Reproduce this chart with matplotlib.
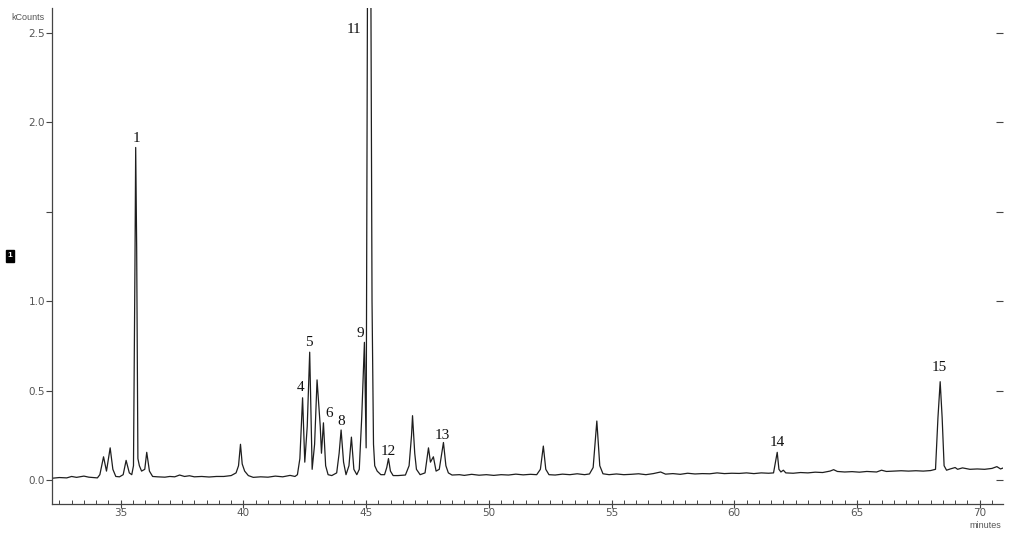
import numpy as np
import matplotlib.pyplot as plt
from matplotlib.ticker import MultipleLocator, FixedLocator

# trace (minutes, kCounts)
trace_time = [
    32.2, 32.5, 32.8, 33.0, 33.2, 33.5, 33.7, 33.9, 34.05,
    34.15, 34.3, 34.42, 34.5, 34.57, 34.68, 34.8, 34.95,
    35.1, 35.22, 35.35, 35.45,
    35.52, 35.58, 35.61, 35.65, 35.7, 35.76, 35.85,
    35.98, 36.06, 36.17, 36.3,
    36.5, 36.8, 37.0, 37.2, 37.4, 37.6, 37.8, 38.0, 38.3, 38.6, 38.9, 39.2, 39.5, 39.7,
    39.8, 39.88, 39.95, 40.05, 40.2, 40.4,
    40.7, 41.0, 41.3, 41.6, 41.9, 42.1, 42.2,
    42.3, 42.41, 42.5, 42.6, 42.7, 42.8, 42.9, 43.0, 43.08, 43.13,
    43.18, 43.26, 43.35, 43.45, 43.6, 43.8,
    43.9, 43.98, 44.08, 44.18,
    44.3, 44.4, 44.5, 44.62, 44.72,
    44.82, 44.93, 45.0,
    45.06, 45.1, 45.16, 45.24, 45.3, 45.35, 45.45, 45.6, 45.75,
    45.84, 45.91, 45.99, 46.1, 46.3, 46.6, 46.75,
    46.85, 46.89, 46.98, 47.05, 47.2, 47.4,
    47.54, 47.62, 47.74, 47.85, 47.98, 48.15, 48.25, 48.35, 48.5,
    48.8, 49.0, 49.3, 49.6, 49.9, 50.2, 50.5, 50.8, 51.1, 51.4, 51.7, 51.95,
    52.1, 52.22, 52.32, 52.45, 52.7, 53.0, 53.3, 53.6, 53.9, 54.1,
    54.25, 54.4, 54.52, 54.65, 54.9, 55.2, 55.5, 55.8, 56.1, 56.4, 56.7,
    57.0, 57.2, 57.5, 57.8, 58.1, 58.4, 58.7, 59.0, 59.3, 59.6, 59.9,
    60.2, 60.5, 60.8, 61.1, 61.4, 61.6,
    61.68, 61.75, 61.82, 61.9, 62.0, 62.1,
    62.4, 62.7, 63.0, 63.3, 63.6, 63.9, 64.05, 64.2, 64.5, 64.8, 65.1, 65.4, 65.8,
    66.0, 66.2, 66.5, 66.8, 67.1, 67.4, 67.7, 68.0, 68.2,
    68.3, 68.39, 68.47, 68.55, 68.65,
    68.8, 69.0, 69.1, 69.3, 69.6, 69.9, 70.2, 70.5, 70.7, 70.85, 71.0,
]
trace_kcounts = [
    0.010, 0.014, 0.012, 0.020, 0.015, 0.022, 0.016, 0.014, 0.012,
    0.030, 0.130, 0.050, 0.120, 0.180, 0.060, 0.020, 0.018,
    0.030, 0.110, 0.040, 0.030,
    0.080, 1.200, 1.860, 1.300, 0.120, 0.080, 0.050,
    0.060, 0.155, 0.050, 0.020,
    0.018, 0.016, 0.020, 0.018, 0.028, 0.020, 0.024, 0.018, 0.020, 0.017, 0.020, 0.020, 0.025, 0.040,
    0.080, 0.200, 0.090, 0.050, 0.025, 0.015,
    0.018, 0.016, 0.022, 0.018, 0.026, 0.020, 0.030,
    0.120, 0.460, 0.100, 0.300, 0.715, 0.060, 0.200, 0.560, 0.400, 0.300,
    0.150, 0.320, 0.080, 0.030, 0.025, 0.040,
    0.150, 0.280, 0.100, 0.030,
    0.080, 0.240, 0.060, 0.030, 0.060,
    0.350, 0.770, 0.180,
    3.000, 4.000, 4.000, 1.000, 0.200, 0.080, 0.050, 0.030, 0.030,
    0.070, 0.120, 0.050, 0.025, 0.025, 0.028, 0.080,
    0.250, 0.360, 0.150, 0.060, 0.030, 0.040,
    0.180, 0.100, 0.130, 0.050, 0.060, 0.210, 0.080, 0.040, 0.028,
    0.030, 0.026, 0.032, 0.027, 0.030, 0.026, 0.030, 0.028, 0.033, 0.029, 0.032, 0.030,
    0.060, 0.190, 0.060, 0.030, 0.028, 0.033, 0.030, 0.035, 0.030, 0.034,
    0.070, 0.330, 0.080, 0.035, 0.030, 0.034, 0.030, 0.032, 0.035, 0.030, 0.036,
    0.045, 0.033, 0.036, 0.032, 0.038, 0.034, 0.036, 0.035, 0.040, 0.036, 0.038,
    0.037, 0.040, 0.036, 0.040, 0.038, 0.040,
    0.100, 0.155, 0.060, 0.045, 0.055, 0.040,
    0.038, 0.042, 0.040, 0.044, 0.042, 0.050, 0.058, 0.048, 0.045, 0.047, 0.044, 0.048, 0.045,
    0.055, 0.048, 0.050, 0.052, 0.050, 0.052, 0.050, 0.053, 0.060,
    0.350, 0.550, 0.350, 0.080, 0.055,
    0.062, 0.070, 0.060, 0.068, 0.060, 0.062, 0.060, 0.065, 0.075, 0.062, 0.070,
]

# peak numbers and where their labels sit
peak_labels = ['1', '4', '5', '6', '8', '9', '11', '12', '13', '14', '15']
label_time = [35.65, 42.33, 42.65, 43.51, 44.0, 44.77, 44.49, 45.91, 48.11, 61.75, 68.35]
label_kcounts = [1.91, 0.52, 0.77, 0.37, 0.33, 0.82, 2.52, 0.16, 0.25, 0.21, 0.63]

y_ticks = [0.0, 0.5, 1.0, 1.5, 2.0, 2.5]
y_ticklabels = ['0.0', '0.5', '1.0', '', '2.0', '2.5']

fig = plt.figure(figsize=(10.24, 5.37), dpi=100)
ax = fig.add_axes([52 / 1024, 1 - 504 / 537, (1003 - 52) / 1024, (504 - 8) / 537])

ax.plot(trace_time, trace_kcounts, color='#1e1e1e', linewidth=0.9)

for lab, t, y in zip(peak_labels, label_time, label_kcounts):
    ax.text(t, y, lab, ha='center', va='center', fontsize=11,
            family='Liberation Serif', color='#111111')

ax.set_xlim(32.2, 70.95)
ax.set_ylim(-0.134, 2.64)

ax.spines['top'].set_visible(False)
ax.spines['right'].set_visible(False)
for s in ['left', 'bottom']:
    ax.spines[s].set_color('#444444')
    ax.spines[s].set_linewidth(0.9)

ax.xaxis.set_major_locator(MultipleLocator(5))
ax.xaxis.set_minor_locator(MultipleLocator(0.5))
ax.yaxis.set_major_locator(FixedLocator(y_ticks))
ax.set_yticklabels(y_ticklabels)

ax.tick_params(axis='x', which='major', direction='inout', length=6, width=0.8,
               colors='#444444', labelsize=7.5, labelcolor='#555555', pad=0)
ax.tick_params(axis='x', which='minor', direction='in', length=3, width=0.7, colors='#444444')
ax.tick_params(axis='y', which='major', direction='out', length=4, width=0.8,
               colors='#444444', labelsize=7.5, labelcolor='#555555', pad=1,
               right=True, labelright=False)
for t in ax.yaxis.get_major_ticks():
    t.tick2line.set_marker(0)  # short dash on right
    t.tick2line.set_markersize(5)

fig.text(28 / 1024, 1 - 17 / 537, 'kCounts', fontsize=6.5, color='#555555',
         ha='center', va='center', family='Liberation Sans')
fig.text(985 / 1024, 1 - 525 / 537, 'minutes', fontsize=6.5, color='#555555',
         ha='center', va='center', family='Liberation Sans')
fig.text(10 / 1024, 1 - 256 / 537, '1', fontsize=6, color='white', weight='bold',
         ha='center', va='center', family='Liberation Sans',
         bbox=dict(facecolor='black', edgecolor='black', boxstyle='square,pad=0.25'))

fig.savefig('out.png', dpi=100)
